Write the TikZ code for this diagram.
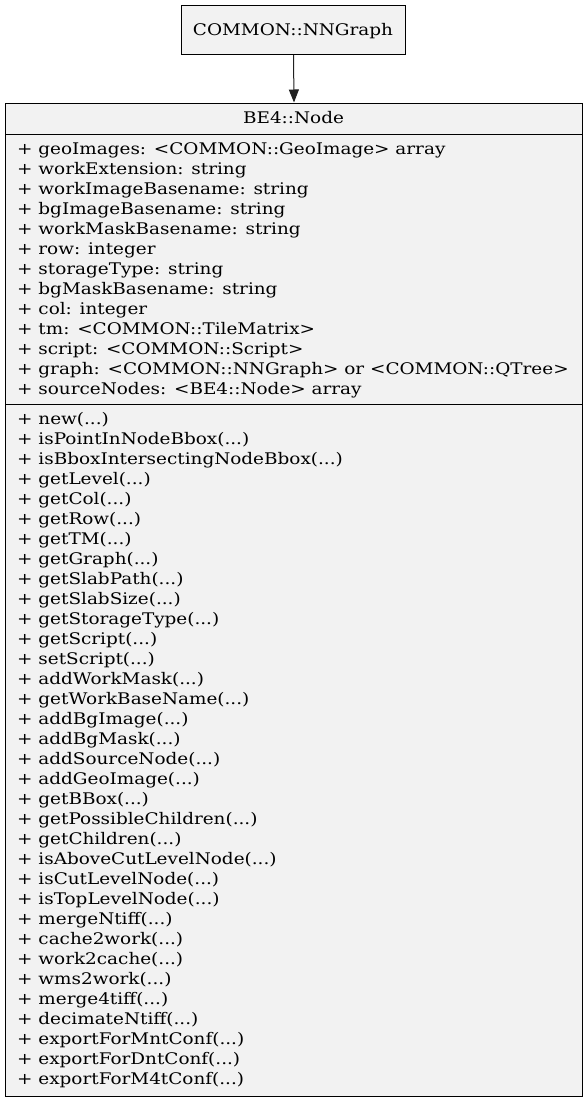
\documentclass[tikz,border=0pt]{standalone}
\usepackage{fontspec}
\setmainfont{DejaVu Serif}[FakeStretch=1.15]
\usetikzlibrary{arrows.meta}
\definecolor{boxfill}{HTML}{F2F2F2}
\definecolor{edge}{HTML}{202020}
\tikzset{
  umlbox/.style={draw=black, fill=boxfill, line width=1pt, inner sep=0pt},
  member/.style={anchor=base west, inner sep=0pt, font=\fontsize{16}{19}\selectfont},
  titletext/.style={anchor=base, inner sep=0pt, font=\fontsize{16}{19}\selectfont},
  inherit/.style={draw=edge, line width=1pt, -{Triangle[length=13pt,width=10pt]}}
}
\begin{document}
\begin{tikzpicture}[x=1pt,y=-1pt]
\useasboundingbox (0,0) rectangle (588,1101);
\node[umlbox, anchor=north west, minimum width=224pt, minimum height=49pt] (parent) at (181,5) {};
\node[titletext] (parenttitle) at (293,35) {COMMON::NNGraph};
\node[umlbox, anchor=north west, minimum width=577pt, minimum height=993pt] (cls) at (5,102.5) {};
\draw[line width=1pt] (cls.west |- 0,134) -- (cls.east |- 0,134);
\draw[line width=1pt] (cls.west |- 0,404.5) -- (cls.east |- 0,404.5);
\node[titletext] (clstitle) at (293.5,123.5) {BE4::Node};
\foreach [count=\i] \t in {
  {+ geoImages: <COMMON::GeoImage> array},
  {+ workExtension: string},
  {+ workImageBasename: string},
  {+ bgImageBasename: string},
  {+ workMaskBasename: string},
  {+ row: integer},
  {+ storageType: string},
  {+ bgMaskBasename: string},
  {+ col: integer},
  {+ tm: <COMMON::TileMatrix>},
  {+ script: <COMMON::Script>},
  {+ graph: <COMMON::NNGraph> or <COMMON::QTree>},
  {+ sourceNodes: <BE4::Node> array}}
  \node[member] (attr\i) at (17,{154.5+20*(\i-1)}) {\t};
\foreach [count=\i] \t in {
  new, isPointInNodeBbox, isBboxIntersectingNodeBbox, getLevel, getCol, getRow,
  getTM, getGraph, getSlabPath, getSlabSize, getStorageType, getScript, setScript,
  addWorkMask, getWorkBaseName, addBgImage, addBgMask, addSourceNode, addGeoImage,
  getBBox, getPossibleChildren, getChildren, isAboveCutLevelNode, isCutLevelNode,
  isTopLevelNode, mergeNtiff, cache2work, work2cache, wms2work, merge4tiff,
  decimateNtiff, exportForMntConf, exportForDntConf, exportForM4tConf}
  \node[member] (meth\i) at (17,{424.5+20*(\i-1)}) {+ \t(...)};
\draw[inherit] (parent.south) -- (cls.north);
\end{tikzpicture}
\end{document}
